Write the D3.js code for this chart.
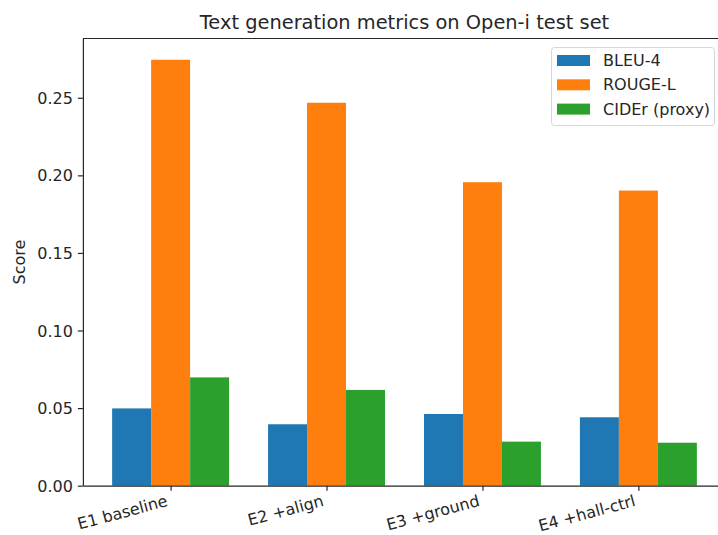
<!DOCTYPE html>
<html>
<head>
<meta charset="utf-8">
<script src="https://cdn.jsdelivr.net/npm/d3@7"></script>
<style>
  body { margin: 0; background: #fff; }
  svg text { font-family: "DejaVu Sans", sans-serif; fill: #262626; }
</style>
</head>
<body>
<div id="chart"></div>
<script>
// data
const categories = ["E1 baseline", "E2 +align", "E3 +ground", "E4 +hall-ctrl"];
const seriesNames = ["BLEU-4", "ROUGE-L", "CIDEr (proxy)"];
const bleu4 = [0.0498, 0.0396, 0.0462, 0.0441];
const rougeL = [0.2745, 0.2468, 0.1956, 0.1902];
const cider = [0.0698, 0.0617, 0.0284, 0.0277];
const yTicks = [0.00, 0.05, 0.10, 0.15, 0.20, 0.25];
const colors = ["#1f77b4", "#ff7f0e", "#2ca02c"];

const series = [bleu4, rougeL, cider];
const width = 718, height = 535;
const barW = 0.25;

const svg = d3.select("#chart").append("svg")
    .attr("width", width)
    .attr("height", height);

// axes box (right side runs past the picture edge like the reference)
const x = d3.scaleLinear().domain([-0.5625, 3.5625]).range([82.9, 726.1]);
const y = d3.scaleLinear().domain([0, 0.2882]).range([485.7, 38.5]);

// bars
series.forEach((vals, s) => {
    svg.append("g")
        .selectAll("rect")
        .data(vals)
        .enter()
        .append("rect")
        .attr("x", (d, i) => x(i + (s - 1) * barW - barW / 2))
        .attr("y", d => y(d))
        .attr("width", x(barW) - x(0))
        .attr("height", d => y(0) - y(d))
        .style("fill", colors[s]);
});

// y axis
const yAxis = svg.append("g")
    .attr("transform", `translate(${x.range()[0]},0)`)
    .call(d3.axisLeft(y).tickValues(yTicks).tickFormat(d3.format(".2f")).tickSize(5).tickSizeOuter(0).tickPadding(5));
yAxis.selectAll("text").style("font-size", "16px").attr("dy", "0.35em");

// x axis, labels tilted 15 degrees
const xAxis = svg.append("g")
    .attr("transform", `translate(0,${y(0)})`)
    .call(d3.axisBottom(x).tickValues(d3.range(categories.length)).tickFormat(i => categories[i]).tickSize(5).tickSizeOuter(0));
xAxis.selectAll("text")
    .style("font-size", "16px")
    .attr("text-anchor", "end")
    .attr("y", 0)
    .attr("dy", 0)
    .attr("transform", "translate(-2.5,20) rotate(-15)");

[yAxis, xAxis].forEach(g => {
    g.select(".domain").attr("stroke", "#262626").attr("stroke-width", 1.2);
    g.selectAll(".tick line").attr("stroke", "#262626").attr("stroke-width", 1.2);
});

// top spine
svg.append("line")
    .attr("x1", x.range()[0]).attr("x2", x.range()[1])
    .attr("y1", y.range()[1]).attr("y2", y.range()[1])
    .attr("stroke", "#262626").attr("stroke-width", 1.2);

// title + y label
svg.append("text")
    .attr("x", (x.range()[0] + x.range()[1]) / 2).attr("y", 29)
    .attr("text-anchor", "middle")
    .style("font-size", "19.4px")
    .text("Text generation metrics on Open-i test set");

svg.append("text")
    .attr("transform", `translate(25,${(y.range()[0] + y.range()[1]) / 2}) rotate(-90)`)
    .attr("text-anchor", "middle")
    .style("font-size", "16px")
    .text("Score");

// legend
const legend = svg.append("g").attr("transform", "translate(551.5,47.5)");
legend.append("rect")
    .attr("width", 163).attr("height", 78)
    .attr("rx", 3)
    .style("fill", "#fff")
    .style("fill-opacity", 0.8)
    .style("stroke", "#d6d6d6");
seriesNames.forEach((name, i) => {
    legend.append("rect")
        .attr("x", 5.5).attr("y", 7.5 + i * 24.3)
        .attr("width", 33).attr("height", 11)
        .style("fill", colors[i]);
    legend.append("text")
        .attr("x", 51.5).attr("y", 13 + i * 24.3)
        .attr("dy", "0.35em")
        .style("font-size", "16px")
        .text(name);
});
</script>
</body>
</html>
